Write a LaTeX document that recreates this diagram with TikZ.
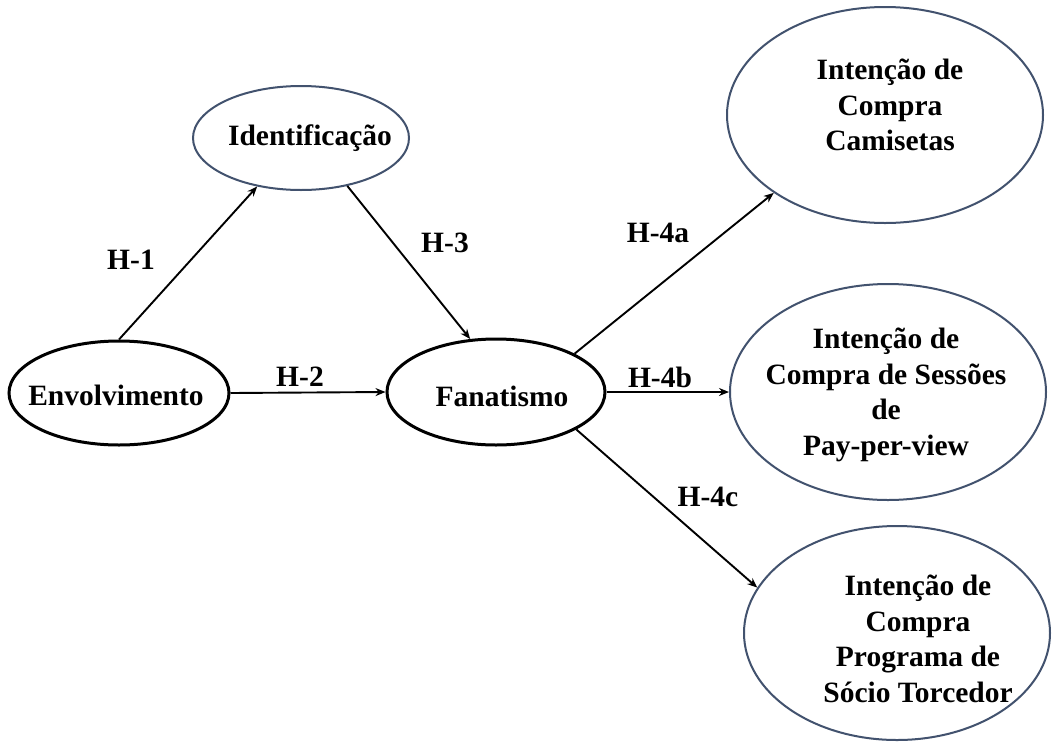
\documentclass[tikz,border=0pt]{standalone}
\usepackage{fontspec}
\setmainfont{Liberation Serif}
\usetikzlibrary{shapes.geometric,arrows.meta}
\definecolor{rim}{RGB}{66,82,110}
\tikzset{
  ellblack/.style={ellipse,draw=black,line width=3pt,inner sep=0pt,fill=none},
  ellblue/.style={ellipse,draw=rim,line width=2pt,inner sep=0pt,fill=none},
  txt/.style={font=\fontsize{29.5}{35.5}\selectfont\bfseries,align=center,inner sep=0pt},
  hyp/.style={font=\fontsize{29.5}{35.5}\selectfont\bfseries,inner sep=0pt},
  conn/.style={line width=1.9pt,-{Stealth[length=10pt,width=8pt]}}
}
\begin{document}
\begin{tikzpicture}[x=1pt,y=-1pt]
\useasboundingbox (0,0) rectangle (1052,742);
\fill[white] (0,0) rectangle (1052,742);

% ellipses
\node[ellblack,minimum width=220pt,minimum height=104pt] (env) at (119,393) {};
\node[ellblack,minimum width=218pt,minimum height=106pt] (fan) at (496,392) {};
\node[ellblue,minimum width=216pt,minimum height=104pt] (idf) at (301,138) {};
\node[ellblue,minimum width=316pt,minimum height=216pt] (cam) at (885,115) {};
\node[ellblue,minimum width=316pt,minimum height=216pt] (ppv) at (888,392) {};
\node[ellblue,minimum width=306pt,minimum height=214pt] (soc) at (897,633) {};

% texts
\node[txt] (envt) at (116,395) {Envolvimento};
\node[txt] (fant) at (502,396) {Fanatismo};
\node[txt] (idft) at (310,138) {Identificação};
\node[txt] (camt) at (890,105) {Intenção de\\Compra\\Camisetas};
\node[txt] (ppvt) at (886,395) {Intenção de\\Compra de Sessões\\de\\Pay-per-view};
\node[txt] (soct) at (918,639) {Intenção de\\Compra\\Programa de\\Sócio Torcedor};

% connectors
\draw[conn] (env.north) -- (idf);
\draw[conn] (idf.-46) -- (fan.116);
\draw[conn] (env.east) -- (fan.west);
\draw[conn] (fan.26) -- (cam.215);
\draw[conn] (fan.east) -- (ppv.west);
\draw[conn] (fan.-25) -- (soc.162);

% hypothesis labels
\node[hyp] (h1) at (131,260) {H-1};
\node[hyp] (h2) at (300,377) {H-2};
\node[hyp] (h3) at (445,243) {H-3};
\node[hyp] (h4a) at (658,233) {H-4a};
\node[hyp] (h4b) at (660,377) {H-4b};
\node[hyp] (h4c) at (708,497) {H-4c};
\end{tikzpicture}
\end{document}
